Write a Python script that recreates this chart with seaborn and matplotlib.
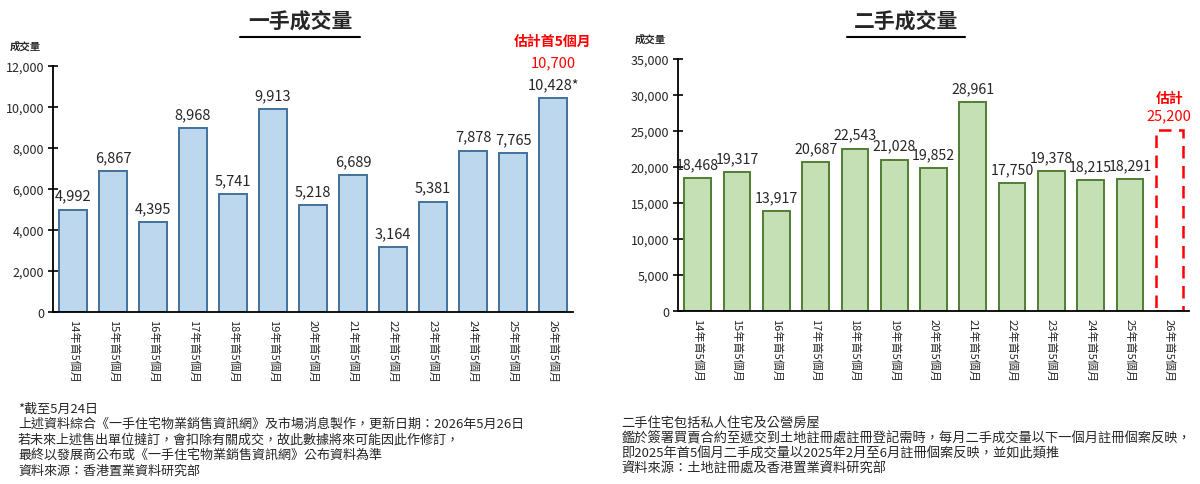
import matplotlib
matplotlib.use("Agg")
import matplotlib.pyplot as plt
import seaborn as sns
from matplotlib.lines import Line2D

# data
cats = ["14年首5個月", "15年首5個月", "16年首5個月", "17年首5個月", "18年首5個月",
        "19年首5個月", "20年首5個月", "21年首5個月", "22年首5個月", "23年首5個月",
        "24年首5個月", "25年首5個月", "26年首5個月"]
first_hand = [4992, 6867, 4395, 8968, 5741, 9913, 5218, 6689, 3164, 5381, 7878, 7765, 10428]
first_est = 10700
second_hand = [18468, 19317, 13917, 20687, 22543, 21028, 19852, 28961, 17750, 19378, 18215, 18291]
second_est = 25200

notes_left = ["*截至5月24日",
              "上述資料綜合《一手住宅物業銷售資訊網》及市場消息製作，更新日期：2026年5月26日",
              "若未來上述售出單位撻訂，會扣除有關成交，故此數據將來可能因此作修訂，",
              "最終以發展商公布或《一手住宅物業銷售資訊網》公布資料為準",
              "資料來源：香港置業資料研究部"]
notes_right = ["二手住宅包括私人住宅及公營房屋",
               "鑑於簽署買賣合約至遞交到土地註冊處註冊登記需時，每月二手成交量以下一個月註冊個案反映，",
               "即2025年首5個月二手成交量以2025年2月至6月註冊個案反映，並如此類推",
               "資料來源：土地註冊處及香港置業資料研究部"]

sns.set_style("white")
plt.rcParams["font.family"] = ["Noto Sans CJK TC", "DejaVu Sans"]

fig = plt.figure(figsize=(12, 4.85), dpi=100)
ax1 = fig.add_axes([0.0442, 0.3546, 0.4333, 0.5072])
ax2 = fig.add_axes([0.565, 0.3567, 0.4258, 0.5196])


def style_axis(ax, ymax, ystep):
    ax.set_xlim(-0.5, len(cats) - 0.5)
    ax.set_ylim(0, ymax)
    ax.set_yticks(range(0, ymax + 1, ystep))
    ax.set_yticklabels([f"{v:,}" for v in range(0, ymax + 1, ystep)], fontsize=9)
    ax.set_xticks(range(len(cats)))
    ax.set_xticklabels(cats, rotation=270, fontsize=8, va="top", ha="center")
    ax.set_xticks([i - 0.5 for i in range(len(cats) + 1)], minor=True)
    ax.tick_params(axis="x", which="major", length=0, pad=5)
    ax.tick_params(axis="x", which="minor", direction="inout", length=7, width=1.2, color="black")
    ax.tick_params(axis="y", direction="inout", length=7, width=1.2, color="black", left=True, pad=3)
    for s in ["top", "right"]:
        ax.spines[s].set_visible(False)
    for s in ["left", "bottom"]:
        ax.spines[s].set_color("black")
        ax.spines[s].set_linewidth(1.3)
    ax.set_xlabel("")
    ax.set_ylabel("")


# left chart
sns.barplot(x=cats, y=first_hand, order=cats, ax=ax1, color="#bdd7ee", edgecolor="#41719c",
            linewidth=1.4, width=0.7, saturation=1)
style_axis(ax1, 12000, 2000)
for i, v in enumerate(first_hand):
    lab = f"{v:,}*" if i == len(first_hand) - 1 else f"{v:,}"
    ax1.annotate(lab, (i, v), xytext=(0, 5), textcoords="offset points",
                 ha="center", va="bottom", fontsize=10.5, annotation_clip=False)
ax1.annotate("估計首5個月", (len(cats) - 1, first_hand[-1]), xytext=(0, 36), textcoords="offset points",
             ha="center", va="bottom", fontsize=10, color="#ff0000", fontweight="bold", annotation_clip=False)
ax1.annotate(f"{first_est:,}", (len(cats) - 1, first_hand[-1]), xytext=(0, 21), textcoords="offset points",
             ha="center", va="bottom", fontsize=10.5, color="#ff0000", annotation_clip=False)

# right chart
sns.barplot(x=cats[:len(second_hand)], y=second_hand, order=cats, ax=ax2, color="#c5e0b4",
            edgecolor="#507e32", linewidth=1.4, width=0.68, saturation=1)
style_axis(ax2, 35000, 5000)
for i, v in enumerate(second_hand):
    ax2.annotate(f"{v:,}", (i, v), xytext=(0, 5), textcoords="offset points",
                 ha="center", va="bottom", fontsize=10.2, annotation_clip=False)
ax2.bar(len(cats) - 1, second_est, width=0.68, fill=False, edgecolor="#ff0000",
        linestyle=(0, (5, 3)), linewidth=1.8)
ax2.annotate(f"{second_est:,}", (len(cats) - 1, second_est), xytext=(0, 5), textcoords="offset points",
             ha="center", va="bottom", fontsize=10.5, color="#ff0000", annotation_clip=False)
ax2.annotate("估計", (len(cats) - 1, second_est), xytext=(0, 18), textcoords="offset points",
             ha="center", va="bottom", fontsize=10, color="#ff0000", fontweight="bold", annotation_clip=False)

# titles with underline
fig.text(0.25, 0.955, "一手成交量", ha="center", va="center", fontsize=15, fontweight="bold")
fig.text(0.755, 0.955, "二手成交量", ha="center", va="center", fontsize=15, fontweight="bold")
fig.add_artist(Line2D([0.2, 0.3], [0.922, 0.922], color="black", linewidth=1.5))
fig.add_artist(Line2D([0.706, 0.804], [0.922, 0.922], color="black", linewidth=1.5))

fig.text(0.021, 0.903, "成交量", ha="center", va="center", fontsize=7.5, fontweight="bold")
fig.text(0.5417, 0.9175, "成交量", ha="center", va="center", fontsize=7.5, fontweight="bold")

# footnotes
for k, line in enumerate(notes_left):
    fig.text(0.015, 1 - (409 + k * 15.5) / 485, line, ha="left", va="center", fontsize=9.4)
for k, line in enumerate(notes_right):
    fig.text(0.518, 1 - (423 + k * 15.5) / 485, line, ha="left", va="center", fontsize=9.5)

fig.savefig("out.png", dpi=100)
